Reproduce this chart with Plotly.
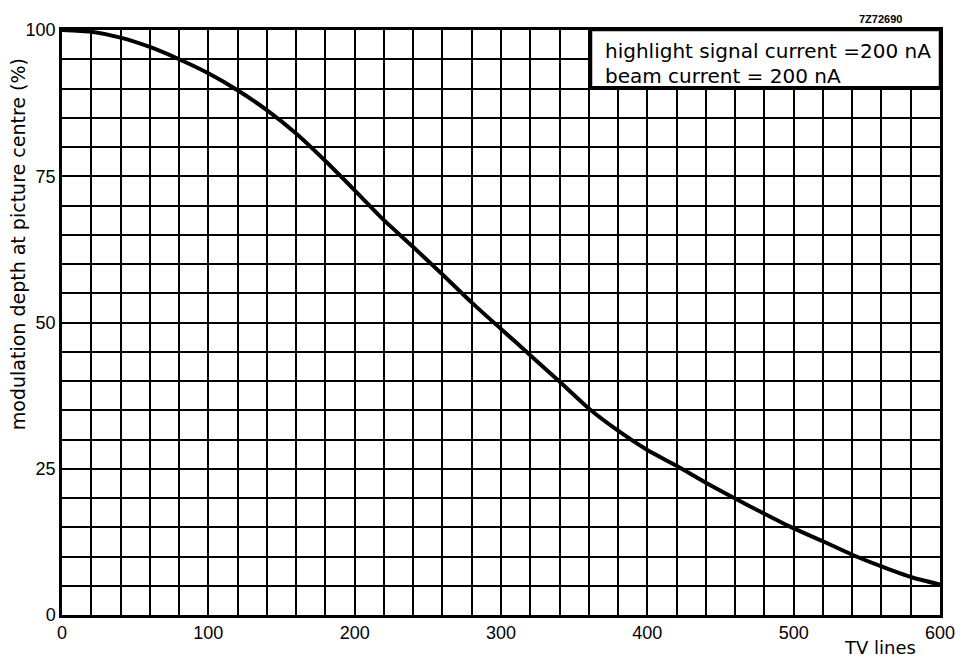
import plotly.graph_objects as go

# Data
tv_lines = [0, 20, 40, 60, 80, 100, 120, 140, 160, 180, 200, 220, 240, 260, 280,
            300, 320, 340, 360, 380, 400, 420, 440, 460, 480, 500, 520, 540, 560, 580, 600]
modulation = [100, 99.7, 98.7, 97.1, 95.0, 92.6, 89.7, 86.3, 82.3, 77.6, 72.6, 67.5, 62.9,
              58.2, 53.4, 48.9, 44.4, 39.9, 35.3, 31.5, 28.2, 25.5, 22.6, 19.9, 17.3, 14.8,
              12.6, 10.3, 8.3, 6.5, 5.2]

x_ticks = [0, 100, 200, 300, 400, 500, 600]
y_ticks = [0, 25, 50, 75, 100]
box_lines = ["highlight signal current =200 nA", "beam current = 200 nA"]
code_label = "7Z72690"
x_title = "TV lines"
y_title = "modulation depth at picture centre (%)"

FONT = "Liberation Sans"
TFONT = "DejaVu Sans"

fig = go.Figure()
fig.add_trace(go.Scatter(x=tv_lines, y=modulation, mode="lines",
                         line=dict(color="black", width=4, shape="spline", smoothing=0.6),
                         hoverinfo="skip", showlegend=False))

axis_common = dict(showline=True, mirror=True, linecolor="black", linewidth=2.5,
                   showgrid=True, gridcolor="black", gridwidth=1.5, zeroline=False,
                   ticks="", tickfont=dict(family=FONT, size=18, color="black"))

fig.update_xaxes(range=[0, 600], tickvals=x_ticks, ticktext=[str(v) for v in x_ticks],
                 minor=dict(dtick=20, showgrid=True, gridcolor="black", gridwidth=1.5, ticks=""),
                 **axis_common)
fig.update_yaxes(range=[0, 100], tickvals=y_ticks, ticktext=[str(v) for v in y_ticks],
                 minor=dict(dtick=5, showgrid=True, gridcolor="black", gridwidth=1.5, ticks=""),
                 **axis_common)

# white box with text
fig.add_shape(type="rect", xref="x", yref="y", x0=361.5, x1=600, y0=90.2, y1=100,
              fillcolor="white", line=dict(color="black", width=2.5), layer="above")
fig.add_annotation(xref="x", yref="y", x=369.5, y=96.45, xanchor="left", yanchor="middle",
                   text=box_lines[0], showarrow=False,
                   font=dict(family=TFONT, size=20, color="black"))
fig.add_annotation(xref="x", yref="y", x=369.5, y=92.2, xanchor="left", yanchor="middle",
                   text=box_lines[1], showarrow=False,
                   font=dict(family=TFONT, size=20, color="black"))

fig.add_annotation(xref="x", yref="paper", x=559, y=1.0185, xanchor="center", yanchor="middle",
                   text="<b>" + code_label + "</b>", showarrow=False,
                   font=dict(family=FONT, size=11, color="black"))
fig.add_annotation(xref="x", yref="paper", x=559, y=-0.056, xanchor="center", yanchor="middle",
                   text=x_title, showarrow=False,
                   font=dict(family=TFONT, size=18, color="black"))
fig.add_annotation(xref="paper", yref="paper", x=-0.05, y=0.634, xanchor="center", yanchor="middle",
                   text=y_title, textangle=-90, showarrow=False,
                   font=dict(family=TFONT, size=19, color="black"))

# the page adds an 8px body margin, so margins are reduced accordingly
fig.update_layout(width=963, height=664, margin=dict(l=54, r=31, t=14, b=57),
                  paper_bgcolor="white", plot_bgcolor="white", showlegend=False)

fig.write_html("out.html")
